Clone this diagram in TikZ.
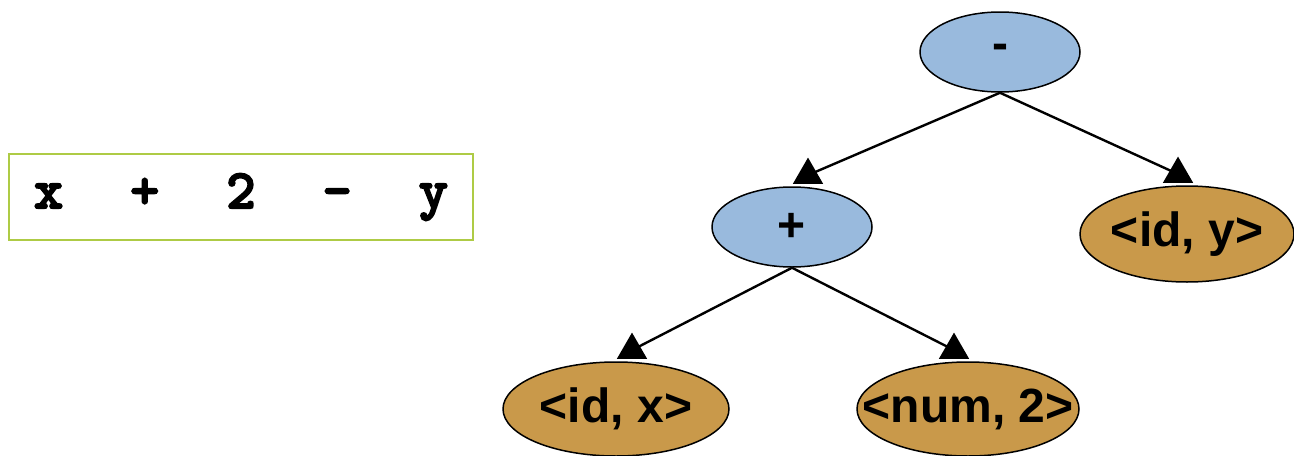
\documentclass[tikz,border=0pt]{standalone}
\usepackage{fontspec}
\newfontfamily\nodefont{Liberation Sans}
\newfontfamily\codefont{lmmonolt10-bold.otf}[FakeBold=3]
\usepackage{xcolor}
\definecolor{opcolor}{HTML}{99BADD}
\definecolor{leafcolor}{HTML}{C9994A}
\definecolor{boxcolor}{HTML}{AECB45}
\usepackage{tikz}
\usetikzlibrary{positioning, shapes.geometric, backgrounds}
% Text that does not widen its ellipse
\newcommand{\tokentext}[1]{\makebox[0pt]{#1}}
% Gap between two tokens of the source line
\newcommand{\tokengap}{\hspace{33.4pt}}
\tikzset{
    edge/.style={ draw=black, line width=1.2pt },
    % Tree nodes
    opnode/.style={ ellipse, draw=black, line width=0.75pt, fill=opcolor, minimum width=80pt, minimum height=40pt, inner sep=0pt, font=\nodefont\bfseries\fontsize{24}{28}\selectfont },
    leafnode/.style={ opnode, fill=leafcolor },
    % Triangle at the child end of an edge
    tip/.style={ regular polygon, regular polygon sides=3, fill=black, minimum size=17.5pt, inner sep=0pt, anchor=south },
    % Token stream
    codebox/.style={ rectangle, draw=boxcolor, line width=1pt, minimum width=232pt, minimum height=43pt, font=\codefont\fontsize{28}{30}\selectfont },
}

\begin{document}
\begin{tikzpicture}[x=0.5pt, y=-0.5pt]
    \useasboundingbox (0,0) rectangle (1294,455);

    % Source text
    \node[codebox] (expr) at (241,197) {x\tokengap+\tokengap2\tokengap-\tokengap y\hspace{5.5pt}};

    % Syntax tree
    \node[opnode] (minus) at (1000,52) {-};
    \node[opnode] (plus) at (792,227) {+};
    \node[leafnode, minimum width=107pt, minimum height=48pt] (id-y) at (1187,234) {\tokentext{<id, y>}};
    \node[leafnode, minimum width=113pt, minimum height=47pt] (id-x) at (616,409) {\tokentext{<id, x>}};
    \node[leafnode, minimum width=111pt, minimum height=47pt] (num-2) at (968,409) {\tokentext{<num, 2>}};

    \node[tip] (tip-plus) at ([xshift=8pt, yshift=1pt] plus.north) {};
    \node[tip] (tip-id-y) at ([xshift=-4.5pt, yshift=1pt] id-y.north) {};
    \node[tip] (tip-id-x) at ([xshift=8pt, yshift=1pt] id-x.north) {};
    \node[tip] (tip-num-2) at ([xshift=-7pt, yshift=1pt] num-2.north) {};

    \begin{scope}[on background layer]
        \draw[edge] (minus.south) to (tip-plus.center);
        \draw[edge] (minus.south) to (tip-id-y.center);
        \draw[edge] (plus.south) to (tip-id-x.center);
        \draw[edge] (plus.south) to (tip-num-2.center);
    \end{scope}
\end{tikzpicture}
\end{document}
